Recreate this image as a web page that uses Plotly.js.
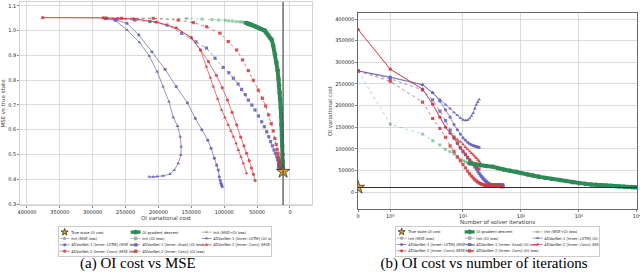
<!DOCTYPE html>
<html><head><meta charset="utf-8">
<script src="https://cdn.plot.ly/plotly-3.0.1.min.js"></script>
<style>
html,body{margin:0;padding:0;width:640px;height:275px;overflow:hidden;background:#fff;}
.fig{position:absolute;top:0;width:960px;height:825px;transform:scale(0.3333333);transform-origin:0 0;}
#left{left:0;} #right{left:320px;}
</style></head><body>
<div id="left" class="fig"></div><div id="right" class="fig"></div>
<script>
// ---------------- data ----------------
const trueCost = 10500;
const trueMSE = 0.431;

// OI gradient descent: early (light, dashed) part, iterations 0..13
const greenEarlyCost = [280000,157000,134000,118600,108700,98700,93000,87800,81600,76300,72500,70000,68000,66400];
const greenEarlyMSE  = [1.050,1.049,1.047,1.045,1.043,1.042,1.040,1.039,1.037,1.036,1.035,1.034,1.032,1.031];
// OI gradient descent: long run
const greenIter = [13,16,20,25,33,40,50,65,84,100,130,160,200,260,340,468,600,780,1000,1300,1650,2000,2500,3000,3600,4300,5000,6000,7000,8000,9000,10000];
const greenCost = [66400,64000,62000,60000,58500,55000,52000,49000,46500,44000,40500,38000,35500,32500,30000,27700,25500,22700,20500,18800,17500,16500,15600,14900,14100,13400,12800,12200,11700,11300,11000,10800];
const greenMSE  = [1.031,1.029,1.027,1.025,1.024,1.020,1.017,1.013,1.010,1.007,1.003,1.000,0.990,0.980,0.970,0.963,0.940,0.905,0.872,0.840,0.805,0.780,0.750,0.722,0.690,0.655,0.620,0.575,0.535,0.500,0.470,0.445];

// blue series (solver iterations 0,1,2,...)
const blueCircCost = [280000,266000,248000,230000,210000,190000,173000,156000,144000,134000,125000,120000,115000,111500,109000,107500,106000,105000,104000,103000];
const blueCircMSE  = [1.050,1.044,1.030,0.983,0.915,0.844,0.774,0.709,0.646,0.600,0.558,0.525,0.485,0.457,0.437,0.410,0.395,0.384,0.377,0.370];
const blueTriCost  = [280000,265000,248000,229000,214000,202000,193000,184000,177500,171000,167000,165500,166000,170000,176000,182500,193000,202000,208000,214000];
const blueTriMSE   = [1.050,1.040,1.003,0.953,0.898,0.835,0.774,0.713,0.650,0.615,0.572,0.532,0.498,0.464,0.437,0.421,0.414,0.411,0.410,0.410];
const blueSqCost   = [280000,262000,236000,213000,187000,165000,143000,127000,114000,101500,93000,86000,79000,73500,68000,63400,58000,53200,48000,43000,39000,35400,32300,29400,26700,24300,22200,20200,18800,17500,16900,16700,16600,16500,16450,16400,16350,16300,16250,16200,16150,16100,16080,16060,16040,16020,16010,16005,16000,16000];
const blueSqMSE    = [1.050,1.048,1.043,1.037,1.023,0.990,0.955,0.930,0.889,0.852,0.830,0.808,0.785,0.763,0.742,0.720,0.700,0.680,0.656,0.632,0.612,0.592,0.572,0.552,0.535,0.518,0.505,0.491,0.480,0.470,0.464,0.462,0.460,0.458,0.457,0.456,0.455,0.454,0.453,0.452,0.451,0.450,0.449,0.448,0.447,0.446,0.445,0.444,0.443,0.442];

// red series
const redCircCost = [376000,284000,238000,203000,173000,150000,136000,124000,112000,103000,95000,88000,81000,75000,70000,66000,62000,58500,55500,53000];
const redCircMSE  = [1.053,1.052,1.048,1.035,1.011,0.972,0.922,0.875,0.820,0.770,0.720,0.670,0.620,0.570,0.535,0.505,0.475,0.445,0.420,0.395];
const redTriCost  = [376000,284000,238000,203000,173000,150000,136000,127000,121000,116500,110000,104000,99000,94000,90000,86000,82000,78500,74500,71000,66000];
const redTriMSE   = [1.053,1.052,1.048,1.035,1.011,0.972,0.922,0.855,0.810,0.774,0.725,0.680,0.650,0.620,0.595,0.572,0.545,0.518,0.490,0.464,0.424];
const redSqCost   = [280000,256000,208000,170000,147000,126700,106500,93800,81000,72000,63400,55800,48200,42000,37000,32500,28500,25500,23000,21000,19500,18200,17200,16300,15600,15000,14600,14300,14000,13900,13800,13700,13600,13500,13400,13300,13200,13150,13100,13050,13000,12950,12900,12850,12800,12750,12700,12650,12600,12500];
const redSqMSE    = [1.050,1.050,1.050,1.043,1.033,1.016,0.990,0.956,0.922,0.882,0.839,0.800,0.760,0.727,0.696,0.660,0.625,0.595,0.565,0.540,0.520,0.505,0.490,0.480,0.472,0.466,0.461,0.458,0.456,0.455,0.454,0.453,0.452,0.451,0.450,0.449,0.448,0.447,0.447,0.446,0.446,0.445,0.445,0.444,0.444,0.443,0.443,0.442,0.442,0.441];

// axis ticks
const costTicksLeft = [400000,350000,300000,250000,200000,150000,100000,50000,0];
const mseTicks = [0.3,0.4,0.5,0.6,0.7,0.8,0.9,1.0,1.1];
const costTicksRight = [0,50000,100000,150000,200000,250000,300000,350000,400000];
const iterTicks = [0,1,10,100,1000,10000];
const iterTickText = ['0','10\u2070','10\u00b9','10\u00b2','10\u00b3','10\u2074'];

// legend labels
const labStar = 'True state OI cost';
const labGreen = 'OI gradient descent';
const labGray = ['Init (MSE loss)','Init (OI loss)','Init (MSE+OI loss)'];
const labBlue = ['4DVarNet-1 [Inner: LSTM] (MSE loss)','4DVarNet-1 [Inner: Grad] (OI loss)','4DVarNet-1 [Inner: LSTM] (OI loss)'];
const labRed  = ['4DVarNet-2 [Inner: Conv] (MSE loss)','4DVarNet-2 [Inner: Conv] (OI loss)','4DVarNet-2 [Inner: Conv] (MSE+OI)'];

// ---------------- helpers ----------------
const S = 3;
const FONT = 'DejaVu Sans, Verdana, sans-serif';
const SERIF = 'Liberation Serif, Times New Roman, serif';
const BLUE = 'rgba(96,96,184,0.85)';
const RED = 'rgba(212,58,62,0.85)';
const GREEN = '#2e8b57';
const LGREEN = 'rgba(70,170,110,0.55)';
const GRAY = '#a8a8a8';

function symlog(v){ const lt = 2, la = 1/(1-1/10); return v <= lt ? v*la : lt*(la + Math.log10(v/lt)); }
function idx(a){ return a.map((_, i) => i); }

function mk(side, cost, mse, iters, o){
  const t = {type:'scatter', mode:'lines+markers', name:o.name, showlegend:o.legend!==false,
    legendgroup:o.group, legendrank:o.rank||1000, cliponaxis:true,
    line:{color:o.color, width:(o.lw||0.8)*S, dash:o.dash||'solid'},
    marker:{symbol:o.symbol||'circle', size:(o.ms||3.2)*S, color:o.color, line:{width:0}}};
  if(side==='L'){ t.x = cost; t.y = mse; } else { t.x = iters.map(symlog); t.y = cost; }
  return t;
}
function legendOnly(o){
  return {type:'scatter', mode:'lines+markers', x:[null], y:[null], name:o.name, legendgroup:o.group, legendrank:o.rank,
    line:{color:GRAY, width:0.8*S}, marker:{symbol:o.symbol, size:3.4*S, color:GRAY}};
}
function traces(side){
  const T = [];
  T.push(mk(side, greenEarlyCost, greenEarlyMSE, idx(greenEarlyCost), {name:labGreen, legend:false, group:'c2', color:LGREEN, symbol:'square', dash:'dash', ms:3}));
  T.push(legendOnly({name:labGray[0], group:'c1', rank:2, symbol:'circle'}));
  T.push(legendOnly({name:labGray[1], group:'c2', rank:6, symbol:'square'}));
  T.push(legendOnly({name:labGray[2], group:'c3', rank:9, symbol:'triangle-up'}));
  T.push(mk(side, blueTriCost, blueTriMSE, idx(blueTriCost), {name:labBlue[2], group:'c3', rank:10, color:BLUE, symbol:'triangle-up', ms:3.4}));
  T.push(mk(side, blueCircCost, blueCircMSE, idx(blueCircCost), {name:labBlue[0], group:'c1', rank:3, color:BLUE, symbol:'circle'}));
  T.push(mk(side, blueSqCost, blueSqMSE, idx(blueSqCost), {name:labBlue[1], group:'c2', rank:7, color:BLUE, symbol:'square', dash:'dash'}));
  T.push(mk(side, redTriCost, redTriMSE, idx(redTriCost), {name:labRed[2], group:'c3', rank:11, color:RED, symbol:'triangle-up', ms:3.4}));
  T.push(mk(side, redCircCost, redCircMSE, idx(redCircCost), {name:labRed[0], group:'c1', rank:4, color:RED, symbol:'circle'}));
  T.push(mk(side, redSqCost, redSqMSE, idx(redSqCost), {name:labRed[1], group:'c2', rank:8, color:RED, symbol:'square', dash:'dash'}));
  T.push(mk(side, greenCost, greenMSE, greenIter, {name:labGreen, group:'c2', rank:5, color:GREEN, symbol:'circle', lw:4, ms:4.6}));
  const star = {type:'scatter', mode:'markers', name:labStar, legendgroup:'c1', legendrank:1,
    marker:{symbol:'star', size:10*S, color:'#e3a21a', line:{color:'#222', width:0.7*S}}};
  if(side==='L'){ star.x=[trueCost]; star.y=[trueMSE]; } else { star.x=[symlog(0)]; star.y=[trueCost]; }
  T.push(star);
  return T;
}
function axisBase(){
  return {showgrid:true, gridcolor:'#d3d3d3', gridwidth:0.8*S, zeroline:false,
    ticks:'outside', ticklen:2*S, tickwidth:0.7*S, tickcolor:'#555',
    tickfont:{size:5*S, family:FONT, color:'#222'}, showline:true, mirror:true, automargin:false};
}
function legendBase(x, y, ew){
  return {orientation:'h', traceorder:'grouped', x:x, xanchor:'left', y:y, yanchor:'top', entrywidth:ew, entrywidthmode:'pixels',
    font:{size:11, family:FONT, color:'#222'}, bordercolor:'#cccccc', borderwidth:3, bgcolor:'#ffffff',
    itemwidth:30, tracegroupgap:0, itemclick:false};
}

// ---------------- left: OI cost vs MSE ----------------
const xL = Object.assign(axisBase(), {range:[410600,-33500], tickvals:costTicksLeft, ticktext:costTicksLeft.map(String),
  linecolor:'#c8c8c8', linewidth:0.8*S, title:{text:'OI variational cost', font:{size:5.5*S, family:FONT}, standoff:1.5*S}});
const yL = Object.assign(axisBase(), {range:[0.296,1.116], tickvals:mseTicks, ticktext:mseTicks.map(v=>v.toFixed(1)),
  linecolor:'#c8c8c8', linewidth:0.8*S, title:{text:'MSE vs true state', font:{size:5.5*S, family:FONT}, standoff:1.5*S}});
const layoutL = {width:960, height:825, margin:{l:20*S, r:8*S, t:2*S, b:70*S},
  paper_bgcolor:'#fff', plot_bgcolor:'#fff', font:{family:FONT, size:5*S},
  showlegend:true, legend:legendBase(0.130, -0.105, 168), xaxis:xL, yaxis:yL,
  shapes:[{type:'line', xref:'x', yref:'paper', x0:trueCost, x1:trueCost, y0:0, y1:1, line:{color:'#555', width:1.3*S}, layer:'above'}],
  annotations:[{text:'(a) OI cost vs MSE', xref:'paper', yref:'paper', x:0.404, y:-0.2857, xanchor:'center', yanchor:'middle',
    showarrow:false, font:{family:SERIF, size:15*S, color:'#000'}}]};

// ---------------- right: OI cost vs iterations ----------------
const xR = Object.assign(axisBase(), {range:[-0.002, symlog(10000)+0.004], tickvals:iterTicks.map(symlog), ticktext:iterTickText,
  ticklabeloverflow:'allow',
  linecolor:'#444', linewidth:0.8*S, title:{text:'Number of solver iterations', font:{size:5.5*S, family:FONT}, standoff:1.5*S}});
const yR = Object.assign(axisBase(), {range:[-39300,413900], tickvals:costTicksRight, ticktext:costTicksRight.map(String),
  linecolor:'#444', linewidth:0.8*S, title:{text:'OI variational cost', font:{size:5.5*S, family:FONT}, standoff:1.5*S}});
const layoutR = {width:960, height:825, margin:{l:38*S, r:3*S, t:13*S, b:66*S},
  paper_bgcolor:'#fff', plot_bgcolor:'#fff', font:{family:FONT, size:5*S},
  showlegend:true, legend:legendBase(0.1326, -0.0867, 159), xaxis:xR, yaxis:yR,
  shapes:[{type:'line', xref:'paper', yref:'y', x0:0, x1:1, y0:trueCost, y1:trueCost, line:{color:'#333', width:1.1*S}, layer:'above'}],
  annotations:[{text:'(b) OI cost vs number of iterations', xref:'paper', yref:'paper', x:0.4516, y:-0.2755, xanchor:'center', yanchor:'middle',
    showarrow:false, font:{family:SERIF, size:15*S, color:'#000'}}]};

const cfg = {staticPlot:true, displayModeBar:false};
Plotly.newPlot('left', traces('L'), layoutL, cfg);
Plotly.newPlot('right', traces('R'), layoutR, cfg);
</script>
</body></html>
